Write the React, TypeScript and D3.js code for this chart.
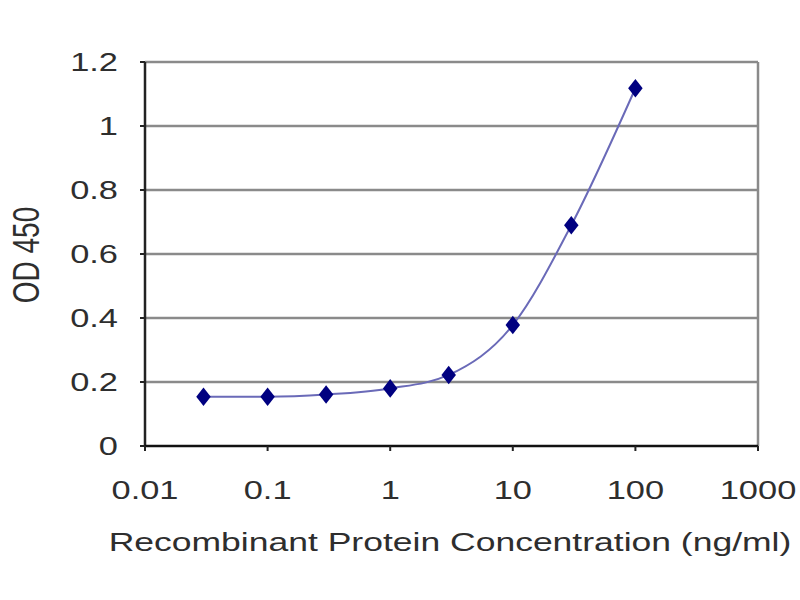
import * as d3 from 'd3';
import React from 'react';

// concentrations (ng/ml) and measured OD 450
const concentrations = [0.03, 0.1, 0.3, 1, 3, 10, 30, 100];
const odValues = [0.154, 0.154, 0.161, 0.18, 0.222, 0.378, 0.69, 1.118];
const xTicks = [0.01, 0.1, 1, 10, 100, 1000];
const xTickLabels = ['0.01', '0.1', '1', '10', '100', '1000'];
const yTicks = [0, 0.2, 0.4, 0.6, 0.8, 1, 1.2];
const yTickLabels = ['0', '0.2', '0.4', '0.6', '0.8', '1', '1.2'];

const width = 800;
const height = 600;
const left = 145;
const right = 758;
const top = 62;
const bottom = 446;
const stretch = 1.35; // the picture is wider than it is tall
const font = '"Liberation Sans", Arial, sans-serif';
const textColor = '#2e2e2e';

export default function App() {
  const xScale = d3.scaleLog().domain([0.01, 1000]).range([left, right]);
  const yScale = d3.scaleLinear().domain([0, 1.2]).range([bottom, top]);

  const pts: [number, number][] = concentrations.map((c, i) => [xScale(c), yScale(odValues[i])]);
  const line = d3.line().curve(d3.curveMonotoneX)(pts) || '';
  const diamond = d3.symbol(d3.symbolDiamond, 100)() || '';

  return (
    <svg
      width={width}
      height={height}
      style={{ position: 'absolute', left: 0, top: 0, background: '#fff' }}
      fontFamily={font}
    >
      {/* gridlines */}
      {yTicks.slice(1).map(t => (
        <line key={t} x1={left} x2={right} y1={yScale(t)} y2={yScale(t)} stroke="#8a8a8a" strokeWidth={2.5} />
      ))}
      <line x1={right} x2={right} y1={top} y2={bottom} stroke="#8a8a8a" strokeWidth={2.5} />
      {/* axes */}
      <line x1={left} x2={left} y1={top} y2={bottom} stroke="#222" strokeWidth={2.5} />
      <line x1={left} x2={right} y1={bottom} y2={bottom} stroke="#111" strokeWidth={2.5} />
      {yTicks.map(t => (
        <line key={'yt' + t} x1={left - 5} x2={left} y1={yScale(t)} y2={yScale(t)} stroke="#222" strokeWidth={2} />
      ))}
      {xTicks.map(t => (
        <line key={'xt' + t} x1={xScale(t)} x2={xScale(t)} y1={bottom} y2={bottom + 5} stroke="#222" strokeWidth={2} />
      ))}
      {/* tick labels */}
      {yTicks.map((t, i) => (
        <text
          key={'yl' + t}
          transform={`translate(${left - 27},${yScale(t) + 9}) scale(${stretch},1)`}
          textAnchor="end"
          fontSize={25.5}
          fill={textColor}
        >
          {yTickLabels[i]}
        </text>
      ))}
      {xTicks.map((t, i) => (
        <text
          key={'xl' + t}
          transform={`translate(${xScale(t)},${499}) scale(${stretch},1)`}
          textAnchor="middle"
          fontSize={25.5}
          fill={textColor}
        >
          {xTickLabels[i]}
        </text>
      ))}
      {/* axis titles */}
      <text
        transform={`translate(${450},${551}) scale(${stretch},1)`}
        textAnchor="middle"
        fontSize={26.3}
        fill={textColor}
      >
        Recombinant Protein Concentration (ng/ml)
      </text>
      <text
        transform={`translate(${39},${255}) scale(${stretch},1) rotate(-90)`}
        textAnchor="middle"
        fontSize={28}
        fill={textColor}
      >
        OD 450
      </text>
      {/* data */}
      <path d={line} fill="none" stroke="#6a6ab8" strokeWidth={2} />
      {pts.map(([x, y], i) => (
        <path
          key={'p' + i}
          d={diamond}
          transform={`translate(${x},${y}) scale(${stretch},1)`}
          fill="#000080"
        />
      ))}
    </svg>
  );
}
